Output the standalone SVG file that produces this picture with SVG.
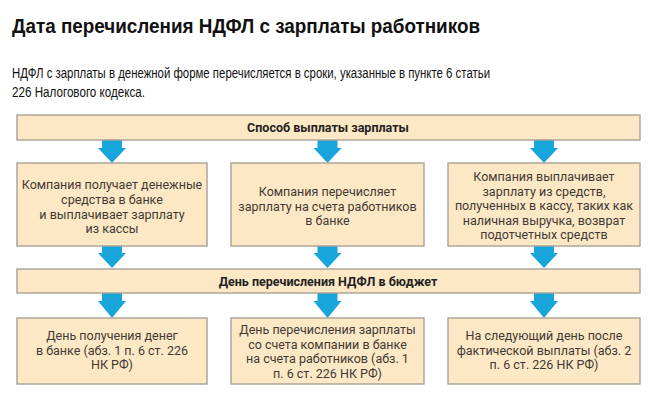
<svg xmlns="http://www.w3.org/2000/svg" width="659" height="402" viewBox="0 0 659 402">
<style>
.title{font-family:"Liberation Sans",Arial,sans-serif;font-weight:bold;font-size:21px;fill:#111}
.sub{font-family:"Liberation Sans",Arial,sans-serif;font-size:14px;fill:#111}
.box{fill:#fde8c5;stroke:#a7a095;stroke-width:1.4}
.bar-t{font-family:Roboto,"Liberation Sans",sans-serif;font-weight:bold;font-size:12.5px;fill:#222;text-anchor:middle}
.t{font-family:Roboto,"Liberation Sans",sans-serif;font-size:12.5px;fill:#3d3a36;text-anchor:middle}
.arr{fill:#18a5dc}
</style>
<rect width="659" height="402" fill="#fff"/>
<text class="title" x="12" y="33" textLength="468" lengthAdjust="spacingAndGlyphs">Дата перечисления НДФЛ с зарплаты работников</text>
<text class="sub" x="12" y="78" textLength="478" lengthAdjust="spacingAndGlyphs">НДФЛ с зарплаты в денежной форме перечисляется в сроки, указанные в пункте 6 статьи</text>
<text class="sub" x="12" y="97" textLength="133" lengthAdjust="spacingAndGlyphs">226 Налогового кодекса.</text>

<g id="connectors">
<path class="arr" d="M102,140H122V148H126L112,163L98,148H102Z"/>
<path class="arr" d="M317.5,140H337.5V148H341.5L327.5,163L313.5,148H317.5Z"/>
<path class="arr" d="M534,140H554V148H558L544,163L530,148H534Z"/>
<path class="arr" d="M102,246H122V253H126L112,268L98,253H102Z"/>
<path class="arr" d="M317.5,246H337.5V253H341.5L327.5,268L313.5,253H317.5Z"/>
<path class="arr" d="M534,246H554V253H558L544,268L530,253H534Z"/>
<path class="arr" d="M102,293H122V301H126L112,318L98,301H102Z"/>
<path class="arr" d="M317.5,293H337.5V301H341.5L327.5,318L313.5,301H317.5Z"/>
<path class="arr" d="M534,293H554V301H558L544,318L530,301H534Z"/>
</g>

<g id="bar1">
<rect class="box" x="17" y="115" width="623" height="25"/>
<text class="bar-t" x="328" y="132">Способ выплаты зарплаты</text>
</g>

<g id="box1">
<rect class="box" x="17" y="163" width="190" height="83"/>
<text class="t" x="112" y="189">Компания получает денежные</text>
<text class="t" x="112" y="204">средства в банке</text>
<text class="t" x="112" y="218.5">и выплачивает зарплату</text>
<text class="t" x="112" y="233">из кассы</text>
</g>

<g id="box2">
<rect class="box" x="231" y="163" width="193" height="83"/>
<text class="t" x="327.5" y="196">Компания перечисляет</text>
<text class="t" x="327.5" y="210.5">зарплату на счета работников</text>
<text class="t" x="327.5" y="225">в банке</text>
</g>

<g id="box3">
<rect class="box" x="448" y="163" width="192" height="83"/>
<text class="t" x="544" y="181">Компания выплачивает</text>
<text class="t" x="544" y="195.5">зарплату из средств,</text>
<text class="t" x="544" y="210">полученных в кассу, таких как</text>
<text class="t" x="544" y="224.5">наличная выручка, возврат</text>
<text class="t" x="544" y="239">подотчетных средств</text>
</g>

<g id="bar2">
<rect class="box" x="17" y="269" width="623" height="24"/>
<text class="bar-t" x="328" y="285.5">День перечисления НДФЛ в бюджет</text>
</g>

<g id="box4">
<rect class="box" x="17" y="318" width="190" height="66"/>
<text class="t" x="112" y="340">День получения денег</text>
<text class="t" x="112" y="354.5">в банке (абз. 1 п. 6 ст. 226</text>
<text class="t" x="112" y="369">НК РФ)</text>
</g>

<g id="box5">
<rect class="box" x="231" y="318" width="193" height="66"/>
<text class="t" x="327.5" y="334">День перечисления зарплаты</text>
<text class="t" x="327.5" y="348.5">со счета компании в банке</text>
<text class="t" x="327.5" y="363">на счета работников (абз. 1</text>
<text class="t" x="327.5" y="377.5">п. 6 ст. 226 НК РФ)</text>
</g>

<g id="box6">
<rect class="box" x="448" y="318" width="192" height="66"/>
<text class="t" x="544" y="340">На следующий день после</text>
<text class="t" x="544" y="354.5">фактической выплаты (абз. 2</text>
<text class="t" x="544" y="369">п. 6 ст. 226 НК РФ)</text>
</g>
</svg>
